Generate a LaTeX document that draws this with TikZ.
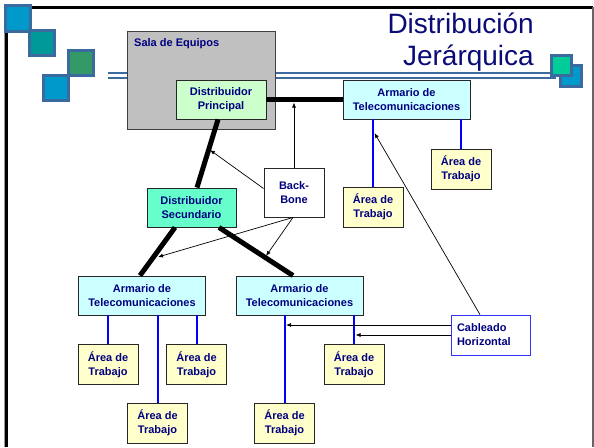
\documentclass[tikz,border=0pt]{standalone}
\usepackage{fontspec}
\setmainfont{Liberation Sans}
\usetikzlibrary{calc,arrows.meta}
\definecolor{navytext}{HTML}{000080}
\definecolor{titlecol}{HTML}{0A0A78}
\definecolor{steel}{HTML}{3A6A9E}
\definecolor{sqblue}{HTML}{0099CC}
\definecolor{sqteal}{HTML}{009999}
\definecolor{sqgreen}{HTML}{339966}
\definecolor{sqmint}{HTML}{00CC99}
\definecolor{salagrey}{HTML}{C0C0C0}
\definecolor{dpfill}{HTML}{CCFFCC}
\definecolor{armfill}{HTML}{CCFFFF}
\definecolor{dsfill}{HTML}{66FFCC}
\definecolor{areafill}{HTML}{FFFFCC}
\definecolor{linkblue}{HTML}{0000FF}
\definecolor{cabborder}{HTML}{3333FF}
\begin{document}
\begin{tikzpicture}[x=1pt,y=-1pt,
  boxfont/.style={font=\fontsize{11}{14}\selectfont\bfseries, text=navytext},
  box/.style={boxfont, draw=black!85, line width=0.9pt, inner sep=0pt, align=center},
  armario/.style={box, fill=armfill, minimum width=127pt, minimum height=39pt},
  area/.style={box, fill=areafill, minimum width=60pt, minimum height=40pt},
  decosq/.style={draw=steel, line width=3pt},
  backbone/.style={line width=5pt, black},
  wire/.style={linkblue, line width=2pt},
  pointer/.style={black, line width=0.7pt, -{Latex[length=5pt,width=4pt]}},
  titletext/.style={anchor=base east, inner sep=0pt, font=\fontsize{28}{28}\selectfont, text=titlecol}]
\useasboundingbox (0,0) rectangle (594,447);

% slide frame
\draw[black!40, line width=1pt] (4.5,447) -- (4.5,8);
\draw[black, line width=2.5pt] (6.5,447) -- (6.5,7.5) -- (593,7.5);
\draw[black!60, line width=1.5pt] (593,7) -- (593,447);

% title rule (double band)
\draw[steel, line width=2.5pt] (108,73.2) -- (556,73.2);
\draw[steel, line width=2.5pt] (108,77.8) -- (556,77.8);

% corner squares
\draw[decosq, fill=sqblue] (5.5,5.5) rectangle (30.5,31.5);
\draw[decosq, fill=sqteal] (29.5,30.5) rectangle (54.5,55.5);
\draw[decosq, fill=sqblue] (43.5,75.5) rectangle (68.5,100.5);
\draw[decosq, fill=sqgreen] (68.5,50.5) rectangle (93.5,75.5);
\draw[decosq, line width=2.5pt, fill=sqblue] (560.5,65.5) rectangle (581.5,86.5);
\draw[decosq, line width=2.5pt, fill=sqmint] (551.5,55.5) rectangle (571.5,75.5);

% title
\node[titletext] (title1) at (534,33) {Distribución};
\node[titletext] (title2) at (534,65) {Jerárquica};

% equipment room
\node[draw=black!75, line width=1pt, fill=salagrey, minimum width=148pt, minimum height=98pt, inner sep=0pt] (sala) at (201,80) {};
\node[boxfont, anchor=base west, inner sep=0pt] (salalbl) at (134,46) {Sala de Equipos};

% nodes
\node[box, fill=dpfill, minimum width=90pt, minimum height=39pt] (dp) at (221,99.5) {Distribuidor\\Principal};
\node[armario] (atop) at (406.5,99.5) {Armario de\\Telecomunicaciones};
\node[area] (at1) at (461,169) {Área de\\Trabajo};
\node[area] (at2) at (373,207) {Área de\\Trabajo};
\node[box, fill=white, minimum width=60pt, minimum height=49pt] (bb) at (294,192.5) {Back-\\Bone};
\node[box, fill=dsfill, minimum width=89pt, minimum height=39pt] (ds) at (191.5,207.5) {Distribuidor\\Secundario};
\node[armario] (al) at (142,295.5) {Armario de\\Telecomunicaciones};
\node[armario] (ar) at (299.5,295.5) {Armario de\\Telecomunicaciones};
\node[area] (w1) at (108,364.5) {Área de\\Trabajo};
\node[area] (w2) at (196.5,364.5) {Área de\\Trabajo};
\node[area] (w3) at (157.5,423) {Área de\\Trabajo};
\node[area] (w4) at (284.5,423) {Área de\\Trabajo};
\node[area] (w5) at (354,364.5) {Área de\\Trabajo};
\node[box, draw=cabborder, line width=0.8pt, fill=white, align=left, text width=67pt, inner xsep=6pt, minimum height=40pt] (ch) at (490.5,335) {Cableado\\Horizontal};

% backbone cabling
\draw[backbone] (dp.east) -- (atop.west);
\draw[backbone] ($(dp.south)+(-3,0)$) -- ($(ds.north)+(5.5,0)$);
\draw[backbone] ($(ds.south)+(-16.5,0)$) -- ($(al.north)+(-2,0)$);
\draw[backbone] ($(ds.south)+(27.5,0)$) -- ($(ar.north)+(-6.5,0)$);

% horizontal cabling to work areas
\draw[wire] (at1.north |- atop.south) -- (at1.north);
\draw[wire] (at2.north |- atop.south) -- (at2.north);
\draw[wire] (w1.north |- al.south) -- (w1.north);
\draw[wire] (w2.north |- al.south) -- (w2.north);
\draw[wire] (w3.north |- al.south) -- (w3.north);
\draw[wire] (w4.north |- ar.south) -- (w4.north);
\draw[wire] (w5.north |- ar.south) -- (w5.north);

% labels pointing at the cable runs
\coordinate (bbtipA) at (294,102.5);
\coordinate (bbtipB) at (210,150);
\coordinate (bbtipC) at (158,257);
\coordinate (bbtipD) at (266,256);
\coordinate (chtipA) at (286,325);
\coordinate (chtipB) at (355.5,335);
\coordinate (chtipC) at (374.5,133);
\draw[pointer] (bb.north) -- (bbtipA);
\draw[pointer] ($(bb.west)+(0,-4)$) -- (bbtipB);
\draw[pointer] ($(bb.south)+(-1,0)$) -- (bbtipC);
\draw[pointer] ($(bb.south)+(-1,0)$) -- (bbtipD);
\draw[pointer] ($(ch.west)+(0,-10)$) -- (chtipA);
\draw[pointer] (ch.west) -- (chtipB);
\draw[pointer] ($(ch.north)+(-10.5,0)$) -- (chtipC);
\end{tikzpicture}
\end{document}
